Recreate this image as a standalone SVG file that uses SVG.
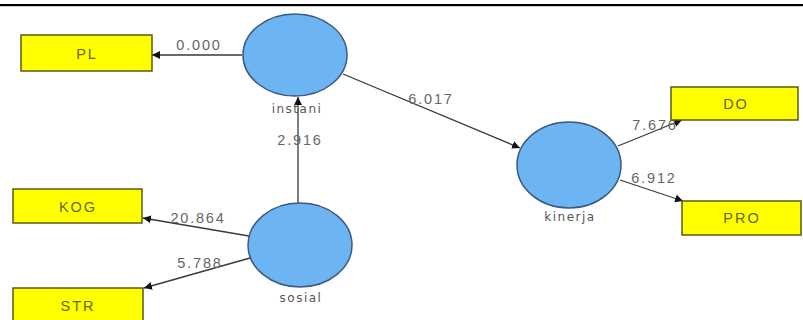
<svg xmlns="http://www.w3.org/2000/svg" width="803" height="320" viewBox="0 0 803 320">
  <style>
    .ind rect { fill: #ffff00; stroke: #5a5a10; stroke-width: 1.5; }
    .ind text { font-family: "Liberation Sans", Arial, sans-serif; font-size: 14.5px; fill: #66661e; text-anchor: middle; letter-spacing: 2px; }
    .lv ellipse { fill: #6cb4f2; stroke: #3c5a80; stroke-width: 1.5; }
    .lv text { font-family: "DejaVu Sans", "Liberation Sans", sans-serif; font-size: 12px; fill: #555; text-anchor: middle; letter-spacing: 1.5px; }
    .edges line { stroke: #3a3a3a; stroke-width: 1.3; marker-end: url(#arrow); }
    .edges text { font-family: "Liberation Sans", Arial, sans-serif; font-size: 14.5px; fill: #666; text-anchor: middle; letter-spacing: 1.8px; }
  </style>
  <defs>
    <marker id="arrow" viewBox="0 0 10 10" refX="10" refY="5" markerWidth="8" markerHeight="8" markerUnits="userSpaceOnUse" orient="auto">
      <path d="M0,0 L10,5 L0,10 z" fill="#111"/>
    </marker>
  </defs>

  <rect width="803" height="320" fill="#ffffff"/>
  <!-- page rule at the top -->
  <rect x="0" y="4" width="803" height="2.2" fill="#000"/>

  <g class="edges">
    <line x1="242" y1="55" x2="152" y2="55"/>
    <text x="199" y="50">0.000</text>
    <line x1="343" y1="74" x2="520" y2="148"/>
    <text x="431" y="104">6.017</text>
    <line x1="298" y1="204" x2="298" y2="97"/>
    <text x="300" y="145">2.916</text>
    <line x1="249" y1="236" x2="143" y2="218"/>
    <text x="198" y="223">20.864</text>
    <line x1="250" y1="258" x2="144" y2="288"/>
    <text x="200" y="268">5.788</text>
    <line x1="618" y1="146" x2="682" y2="120"/>
    <text x="655" y="130">7.676</text>
    <line x1="620" y1="180" x2="683" y2="201"/>
    <text x="654" y="183">6.912</text>
  </g>

  <g id="PL" class="ind">
    <rect x="21" y="35" width="131" height="36"/>
    <text x="87" y="59">PL</text>
  </g>
  <g id="KOG" class="ind">
    <rect x="13" y="189" width="129" height="34"/>
    <text x="78" y="212">KOG</text>
  </g>
  <g id="STR" class="ind">
    <rect x="13" y="288" width="130" height="40"/>
    <text x="78" y="311">STR</text>
  </g>
  <g id="DO" class="ind">
    <rect x="671" y="87" width="127" height="33"/>
    <text x="736" y="109">DO</text>
  </g>
  <g id="PRO" class="ind">
    <rect x="682" y="201" width="119" height="34"/>
    <text x="742" y="223">PRO</text>
  </g>

  <g id="instani" class="lv">
    <ellipse cx="295" cy="55" rx="52" ry="41"/>
    <text x="297" y="113">instani</text>
  </g>
  <g id="sosial" class="lv">
    <ellipse cx="300" cy="245" rx="52" ry="42"/>
    <text x="301" y="302">sosial</text>
  </g>
  <g id="kinerja" class="lv">
    <ellipse cx="569" cy="165" rx="52" ry="43"/>
    <text x="570" y="221">kinerja</text>
  </g>
</svg>
